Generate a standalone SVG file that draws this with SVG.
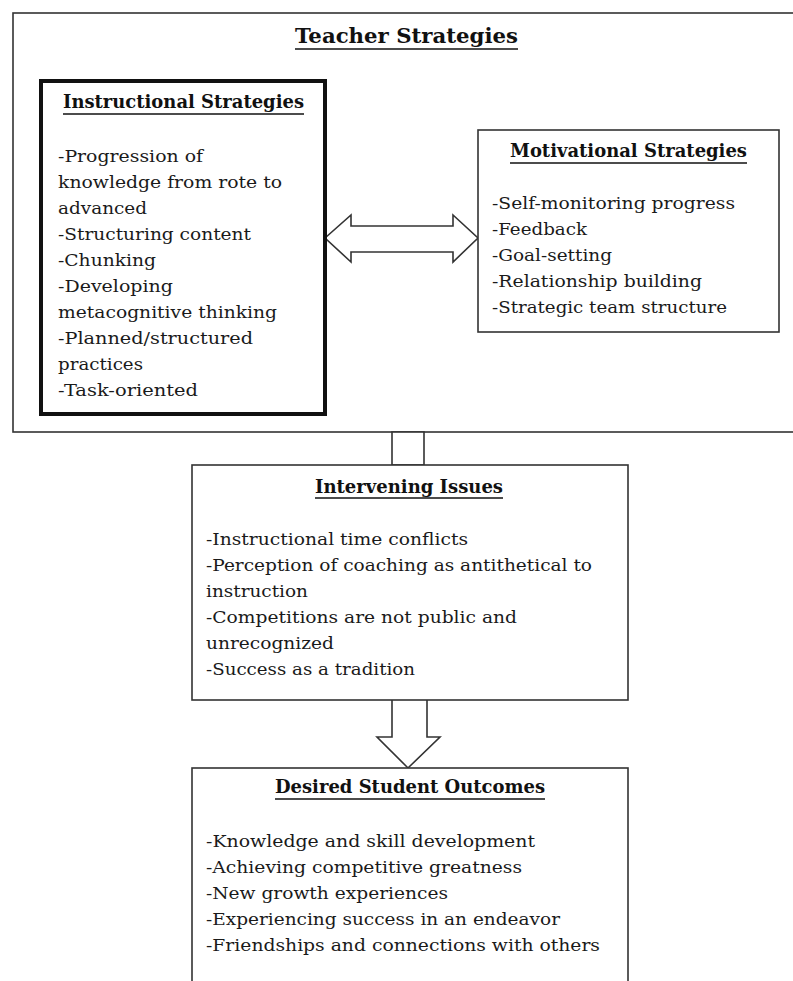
<svg xmlns="http://www.w3.org/2000/svg" width="793" height="981" viewBox="0 0 793 981">
<style>
.box{fill:#fff;stroke:#333;stroke-width:1.6}
.thick{fill:#fff;stroke:#111;stroke-width:4}
.arrow{fill:#fff;stroke:#333;stroke-width:1.6;stroke-linejoin:miter}
.h{font-family:"DejaVu Serif","Liberation Serif",serif;font-weight:bold;font-size:18px;fill:#111}
.t{font-family:"DejaVu Serif","Liberation Serif",serif;font-size:17.5px;fill:#1a1a1a}
.ul{stroke:#111;stroke-width:1.4}
</style>
<rect width="793" height="981" fill="#fff"/>
<g id="teacher-strategies">
<rect class="box" x="13" y="13" width="800" height="419"/>
<text class="h" x="295" y="43" textLength="223" lengthAdjust="spacingAndGlyphs" style="font-size:21px">Teacher Strategies</text>
<line class="ul" x1="295" y1="49" x2="518" y2="49"/>
</g>
<g id="connectors">
<path class="arrow" d="M325,238 L351,215 L351,226 L453,226 L453,215 L478,238 L453,262 L453,252 L351,252 L351,262 Z"/>
<rect class="arrow" x="392" y="432" width="32" height="33"/>
<path class="arrow" d="M392,700 L392,737 L377,737 L408,768 L440,737 L427,737 L427,700"/>
</g>
<g id="instructional-strategies">
<rect class="thick" x="41" y="81" width="284" height="333"/>
<text class="h" x="63" y="108" textLength="241" lengthAdjust="spacingAndGlyphs">Instructional Strategies</text>
<line class="ul" x1="63" y1="114" x2="304" y2="114"/>
<text class="t" x="58" y="162" textLength="145" lengthAdjust="spacingAndGlyphs">-Progression of</text>
<text class="t" x="58" y="188" textLength="224" lengthAdjust="spacingAndGlyphs">knowledge from rote to</text>
<text class="t" x="58" y="214" textLength="89" lengthAdjust="spacingAndGlyphs">advanced</text>
<text class="t" x="58" y="240" textLength="193" lengthAdjust="spacingAndGlyphs">-Structuring content</text>
<text class="t" x="58" y="266" textLength="98" lengthAdjust="spacingAndGlyphs">-Chunking</text>
<text class="t" x="58" y="292" textLength="115" lengthAdjust="spacingAndGlyphs">-Developing</text>
<text class="t" x="58" y="318" textLength="219" lengthAdjust="spacingAndGlyphs">metacognitive thinking</text>
<text class="t" x="58" y="344" textLength="195" lengthAdjust="spacingAndGlyphs">-Planned/structured</text>
<text class="t" x="58" y="370" textLength="85" lengthAdjust="spacingAndGlyphs">practices</text>
<text class="t" x="58" y="396" textLength="140" lengthAdjust="spacingAndGlyphs">-Task-oriented</text>
</g>
<g id="motivational-strategies">
<rect class="box" x="478" y="130" width="301" height="202"/>
<text class="h" x="510" y="157" textLength="237" lengthAdjust="spacingAndGlyphs">Motivational Strategies</text>
<line class="ul" x1="510" y1="163" x2="747" y2="163"/>
<text class="t" x="492" y="209" textLength="243" lengthAdjust="spacingAndGlyphs">-Self-monitoring progress</text>
<text class="t" x="492" y="235" textLength="95" lengthAdjust="spacingAndGlyphs">-Feedback</text>
<text class="t" x="492" y="261" textLength="120" lengthAdjust="spacingAndGlyphs">-Goal-setting</text>
<text class="t" x="492" y="287" textLength="210" lengthAdjust="spacingAndGlyphs">-Relationship building</text>
<text class="t" x="492" y="313" textLength="235" lengthAdjust="spacingAndGlyphs">-Strategic team structure</text>
</g>
<g id="intervening-issues">
<rect class="box" x="192" y="465" width="436" height="235"/>
<text class="h" x="315" y="493" textLength="188" lengthAdjust="spacingAndGlyphs">Intervening Issues</text>
<line class="ul" x1="315" y1="498" x2="503" y2="498"/>
<text class="t" x="206" y="545" textLength="262" lengthAdjust="spacingAndGlyphs">-Instructional time conflicts</text>
<text class="t" x="206" y="571" textLength="386" lengthAdjust="spacingAndGlyphs">-Perception of coaching as antithetical to</text>
<text class="t" x="206" y="597" textLength="102" lengthAdjust="spacingAndGlyphs">instruction</text>
<text class="t" x="206" y="623" textLength="311" lengthAdjust="spacingAndGlyphs">-Competitions are not public and</text>
<text class="t" x="206" y="649" textLength="128" lengthAdjust="spacingAndGlyphs">unrecognized</text>
<text class="t" x="206" y="675" textLength="209" lengthAdjust="spacingAndGlyphs">-Success as a tradition</text>
</g>
<g id="desired-student-outcomes">
<rect class="box" x="192" y="768" width="436" height="240"/>
<text class="h" x="275" y="793" textLength="270" lengthAdjust="spacingAndGlyphs">Desired Student Outcomes</text>
<line class="ul" x1="275" y1="799" x2="545" y2="799"/>
<text class="t" x="206" y="847" textLength="329" lengthAdjust="spacingAndGlyphs">-Knowledge and skill development</text>
<text class="t" x="206" y="873" textLength="316" lengthAdjust="spacingAndGlyphs">-Achieving competitive greatness</text>
<text class="t" x="206" y="899" textLength="242" lengthAdjust="spacingAndGlyphs">-New growth experiences</text>
<text class="t" x="206" y="925" textLength="354" lengthAdjust="spacingAndGlyphs">-Experiencing success in an endeavor</text>
<text class="t" x="206" y="951" textLength="394" lengthAdjust="spacingAndGlyphs">-Friendships and connections with others</text>
</g>
</svg>
